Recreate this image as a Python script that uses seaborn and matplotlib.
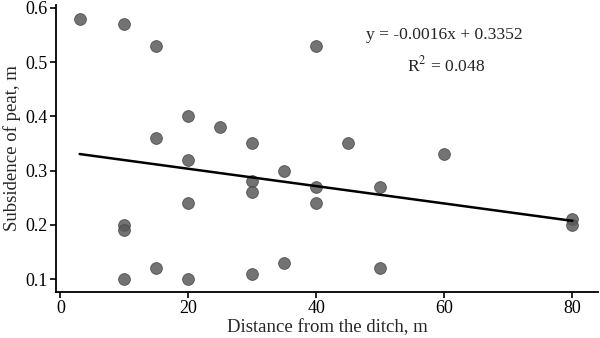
import numpy as np
import pandas as pd
import matplotlib
matplotlib.use("Agg")
import matplotlib.pyplot as plt
import seaborn as sns

# Distance from the ditch (m) and measured subsidence of peat (m)
distance = [3, 10, 15, 40, 20, 25, 15, 30, 45, 20, 60, 35, 30, 40,
            50, 30, 20, 40, 80, 80, 10, 10, 35, 15, 50, 30, 10, 20]
subsidence = [0.58, 0.57, 0.53, 0.53, 0.40, 0.38, 0.36, 0.35, 0.35, 0.32,
              0.33, 0.30, 0.28, 0.27, 0.27, 0.26, 0.24, 0.24, 0.21, 0.20,
              0.20, 0.19, 0.13, 0.12, 0.12, 0.11, 0.10, 0.10]

# Linear trend as reported
slope = -0.0016
intercept = 0.3352
r_squared = 0.048

x_ticks = [0, 20, 40, 60, 80]
y_ticks = [0.1, 0.2, 0.3, 0.4, 0.5, 0.6]

df = pd.DataFrame({"distance": distance, "subsidence": subsidence})

sns.set_theme(style="ticks")
plt.rcParams["font.family"] = ["Liberation Serif", "DejaVu Serif"]
plt.rcParams["mathtext.fontset"] = "stix"

fig = plt.figure(figsize=(6.0, 3.38), dpi=100)
ax = fig.add_axes([0.0933, 0.136, 0.9034, 0.849])

sns.scatterplot(data=df, x="distance", y="subsidence", ax=ax,
                s=72, color="#5a5a5a", alpha=0.85, edgecolor="#444444",
                linewidth=0.6, zorder=3)

fit_x = np.array([min(distance), max(distance)])
sns.lineplot(x=fit_x, y=slope * fit_x + intercept, ax=ax,
             color="black", linewidth=1.8, zorder=4)

ax.set_xlim(-0.7, 84)
ax.set_ylim(0.076, 0.605)
ax.set_xticks(x_ticks)
ax.set_yticks(y_ticks)
ax.set_xticklabels([str(v) for v in x_ticks])
ax.set_yticklabels([f"{v:.1f}" for v in y_ticks])
ax.tick_params(axis="both", labelsize=13, length=4, width=1.2,
               color="black", labelcolor="black", pad=2)
ax.set_xlabel("Distance from the ditch, m", fontsize=13.5, labelpad=1)
ax.set_ylabel("Subsidence of peat, m", fontsize=13.5, labelpad=3)

for side in ["top", "right"]:
    ax.spines[side].set_visible(False)
for side in ["left", "bottom"]:
    ax.spines[side].set_color("black")
    ax.spines[side].set_linewidth(1.3)

ax.text(0.717, 0.895, f"y = {slope}x + {intercept}", transform=ax.transAxes,
        ha="center", va="center", fontsize=12.6)
ax.text(0.72, 0.79, f"R$^2$ = {r_squared}", transform=ax.transAxes,
        ha="center", va="center", fontsize=12.6)

fig.savefig("out.png", dpi=100)
